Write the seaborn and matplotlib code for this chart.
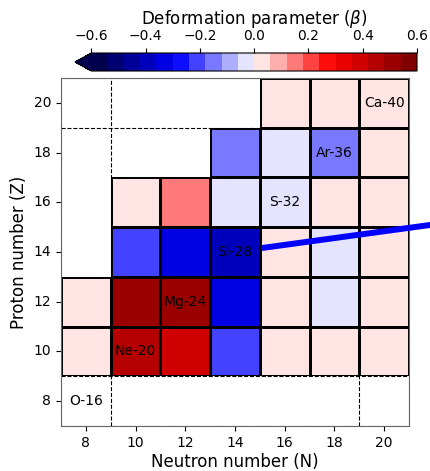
import numpy as np
import pandas as pd
import matplotlib
matplotlib.use("Agg")
import matplotlib.pyplot as plt
from matplotlib.patches import Rectangle
import seaborn as sns

# Chart of light even-even nuclei: deformation parameter beta per (N, Z)
neutrons = [8, 10, 12, 14, 16, 18, 20]
protons = [20, 18, 16, 14, 12, 10, 8]  # top row first

nan = np.nan
beta_z20 = [nan, nan, nan, nan, 0.02, 0.02, 0.00]
beta_z18 = [nan, nan, nan, -0.15, -0.03, -0.15, 0.02]
beta_z16 = [nan, 0.02, 0.15, -0.03, -0.03, 0.02, 0.02]
beta_z14 = [nan, -0.21, -0.33, -0.39, 0.02, -0.03, 0.02]
beta_z12 = [0.02, 0.51, 0.51, -0.33, 0.02, -0.03, 0.02]
beta_z10 = [0.02, 0.45, 0.39, -0.21, 0.02, 0.02, 0.02]
beta_z8 = [nan, nan, nan, nan, nan, nan, nan]

# Labelled nuclei: (name, N, Z)
labels = [("Ca-40", 20, 20), ("Ar-36", 18, 18), ("S-32", 16, 16),
          ("Si-28", 14, 14), ("Mg-24", 12, 12), ("Ne-20", 10, 10),
          ("O-16", 8, 8)]

cbar_ticks = [-0.6, -0.4, -0.2, 0.0, 0.2, 0.4, 0.6]

df = pd.DataFrame([beta_z20, beta_z18, beta_z16, beta_z14, beta_z12,
                   beta_z10, beta_z8], index=protons, columns=neutrons)

plt.rcParams["font.family"] = ["DejaVu Sans"]

fig = plt.figure(figsize=(4.30, 4.71), dpi=100)
ax = fig.add_axes([61 / 430, 45 / 471, 348 / 430, 348 / 471])
cax = fig.add_axes([75 / 430, 400 / 471, 342 / 430, 18 / 471])

cmap = plt.get_cmap("seismic", 20)
sns.heatmap(df, cmap=cmap, vmin=-0.6, vmax=0.6, linewidths=1.9,
            linecolor="black", cbar=False, ax=ax)
mesh = ax.collections[0]

# blank (unmeasured) cells are painted white over the grid lines
for i, z in enumerate(protons):
    for j, n in enumerate(neutrons):
        if np.isnan(df.loc[z, n]):
            ax.add_patch(Rectangle((j, i), 1, 1, facecolor="white",
                                   edgecolor="none", zorder=2))

# magic-number boundaries (N, Z = 8 and 20)
for pos in [1, 6]:
    ax.axvline(pos, color="black", ls="--", lw=0.8, zorder=3)
    ax.axhline(pos, color="black", ls="--", lw=0.8, zorder=3)
for pos in [0, 7]:
    ax.axvline(pos, color="0.4", ls="--", lw=0.8, zorder=3)
    ax.axhline(pos, color="0.4", ls="--", lw=0.8, zorder=3)

for name, n, z in labels:
    j = neutrons.index(n)
    i = protons.index(z)
    ax.text(j + 0.5, i + 0.5, name, ha="center", va="center",
            fontsize=10, color="black", zorder=4)

# pointer line from Si-28 running off to the right
ax.plot([4.04, 9.0], [3.42, 2.74], color="blue", lw=4.3, clip_on=False,
        solid_capstyle="butt", zorder=5)

ax.set_xticks(np.arange(len(neutrons)) + 0.5)
ax.set_xticklabels(neutrons, fontsize=10)
ax.set_yticks(np.arange(len(protons)) + 0.5)
ax.set_yticklabels(protons, fontsize=10, rotation=0)
ax.set_xlabel("Neutron number (N)", fontsize=12, labelpad=2.5)
ax.set_ylabel("Proton number (Z)", fontsize=12)
for s in ax.spines.values():
    s.set_visible(True)
    s.set_color("0.4")
    s.set_linewidth(0.8)

cb = fig.colorbar(mesh, cax=cax, orientation="horizontal", extend="min",
                  ticks=cbar_ticks)
cb.ax.xaxis.set_ticks_position("top")
cb.ax.xaxis.set_label_position("top")
cb.ax.tick_params(labelsize=10)
cb.set_label(r"Deformation parameter ($\beta$)", fontsize=12)

fig.savefig("out.png", dpi=100)
